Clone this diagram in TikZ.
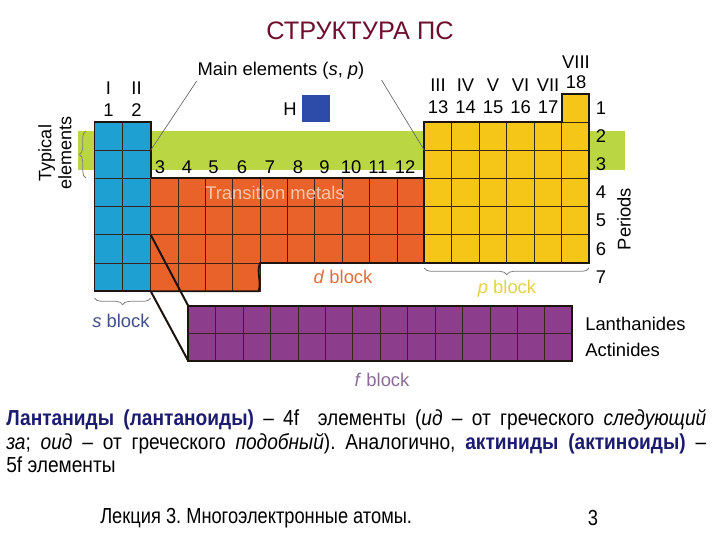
\documentclass[tikz,border=0pt]{standalone}
\usepackage{fontspec}
\setmainfont{Liberation Sans}
\newfontfamily\narrowf[FakeStretch=0.84]{Liberation Sans}
\newfontfamily\paraf[FakeStretch=0.88]{Liberation Sans}
\usetikzlibrary{decorations.pathreplacing}
\definecolor{titlec}{RGB}{110,16,45}
\definecolor{greenband}{RGB}{186,214,66}
\definecolor{sblue}{RGB}{30,160,210}
\definecolor{hblue}{RGB}{45,75,168}
\definecolor{dorange}{RGB}{232,98,42}
\definecolor{pyellow}{RGB}{245,198,24}
\definecolor{fpurple}{RGB}{140,62,140}
\definecolor{peach}{RGB}{246,198,166}
\definecolor{dtext}{RGB}{222,110,60}
\definecolor{ptext}{RGB}{228,210,70}
\definecolor{ftext}{RGB}{140,106,154}
\definecolor{stext}{RGB}{63,79,138}
\definecolor{navy}{RGB}{28,28,110}
\definecolor{cellline}{RGB}{60,35,25}
\definecolor{outl}{RGB}{30,20,15}
\frenchspacing
\begin{document}
\begin{tikzpicture}[x=0.75pt,y=-0.75pt,
  lbl/.style={inner sep=0pt, font=\fontsize{13.8}{16}\selectfont},
  small/.style={inner sep=0pt, font=\fontsize{13.8}{16}\selectfont},
  cell/.style={draw=cellline, line width=0.6pt},
  outline/.style={draw=outl, line width=1.4pt, line join=miter},
  thinlink/.style={draw=gray!80!black, line width=0.5pt},
  thicklink/.style={draw=outl, line width=1.5pt},
  bracec/.style={draw=gray, line width=0.6pt, decorate},
  para/.style={inner sep=0pt, font=\narrowf\fontsize{16.3}{17.8}\selectfont},
  parab/.style={inner sep=0pt, font=\paraf\fontsize{16.3}{17.8}\selectfont}]
\useasboundingbox (0,0) rectangle (720,540);

% title
\node[inner sep=0pt, font=\fontsize{19}{22}\selectfont, text=titlec] (title) at (360,31) {СТРУКТУРА ПС};

% green band
\fill[greenband] (78,131) rectangle (625,170);

% s block
\foreach \i in {0,1} \foreach \j in {0,...,5}
  \filldraw[fill=sblue, cell] ({94.5+28.1*\i},{122+28.2*\j}) rectangle ++(28.1,28.2);
\draw[outline] (94.5,122) rectangle (150.7,291.2);

% d block
\foreach \i in {0,...,9} \foreach \j in {0,1,2}
  \filldraw[fill=dorange, cell] ({150.7+27.36*\i},{178.4+28.2*\j}) rectangle ++(27.36,28.2);
\foreach \i in {0,...,3}
  \filldraw[fill=dorange, cell] ({150.7+27.36*\i},263) rectangle ++(27.36,28.2);
\draw[outline] (150.7,178.4) -- (424.3,178.4);
\draw[outline] (150.7,291.2) -- (258.5,291.2) .. controls (262,282) and (256,272) .. (260.1,263) -- (424.3,263);

% p block
\foreach \i in {0,...,5} \foreach \j in {0,...,4}
  \filldraw[fill=pyellow, cell] ({424.3+27.5*\i},{122+28.2*\j}) rectangle ++(27.5,28.2);
\filldraw[fill=pyellow, cell] (561.8,94) rectangle (589.3,122);
\draw[outline] (424.3,122) -- (561.8,122) -- (561.8,94) -- (589.3,94) -- (589.3,263) -- (424.3,263) -- cycle;

% f block
\foreach \i in {0,...,13} \foreach \j in {0,1}
  \filldraw[fill=fpurple, cell] ({188.3+27.43*\i},{306+27.5*\j}) rectangle ++(27.43,27.5);
\draw[outline] (188.3,306) rectangle (572.3,361);

% f block links
\coordinate (s6) at (150.7,234.8);
\coordinate (s7) at (150.7,291.2);
\coordinate (f1) at (188.3,306);
\coordinate (f2) at (188.3,361);
\draw[thicklink] (s6) -- (f1);
\draw[thicklink] (s7) -- (f2);

% H
\node[lbl] (H) at (290,109) {H};
\fill[hblue] (301.7,95) rectangle (330,121.7);

% group labels
\node[lbl] (gI) at (108.5,88) {I};
\node[lbl] (g1) at (108.5,110) {1};
\node[lbl] (gII) at (136.5,88) {II};
\node[lbl] (g2) at (136.5,110) {2};
\foreach \r/\n [count=\k from 0] in {III/13,IV/14,V/15,VI/16,VII/17} {
  \node[lbl] (gr\n) at ({438+27.5*\k},85) {\r};
  \node[lbl] (ga\n) at ({438+27.5*\k},107) {\n};
}
\node[lbl] (gVIII) at (576,62) {VIII};
\node[lbl] (g18) at (576,82) {18};
\foreach \n/\x in {3/160,4/187,5/213.5,6/242,7/270,8/298,9/324.5,10/351,11/378,12/405}
  \node[lbl] (d\n) at (\x,167) {\n};

% main elements
\node[lbl] (main) at (281,71) {Main elements (\textit{s}, \textit{p})};
\coordinate (sC) at (150.7,150.2);
\coordinate (pC) at (424.3,150.2);
\coordinate (m1) at (196.7,81);
\coordinate (m2) at (381.5,80);
\draw[thinlink] (m1) -- (sC);
\draw[thinlink] (m2) -- (pC);

% periods
\foreach \n/\y in {1/108,2/136,3/164.3,4/192.5,5/220.7,6/249,7/277}
  \node[lbl] (per\n) at (601,\y) {\n};
\node[lbl, rotate=90] (periods) at (624,219) {Periods};

% typical elements
\node[lbl, rotate=90, align=center, font=\fontsize{13.5}{15}\selectfont] (typ) at (55,153) {Typical\\elements};
\draw[bracec, decoration={brace, amplitude=5pt}] (86,178) -- (86,131);

% block labels
\node[lbl, text=peach] (trans) at (275,193) {Transition metals};
\node[lbl, text=dtext] (dbl) at (343,277) {\textit{d} block};
\draw[bracec, decoration={brace, amplitude=5pt}] (589,268) -- (424.3,268);
\node[lbl, text=ptext] (pbl) at (507,289) {\textit{p} block};
\draw[bracec, decoration={brace, amplitude=5pt}] (150.7,298) -- (94.5,298);
\node[lbl, text=stext] (sbl) at (121,321) {\textit{s} block};
\node[small, anchor=west] (lan) at (585,324) {Lanthanides};
\node[small, anchor=west] (act) at (585,350) {Actinides};
\node[lbl, text=ftext] (fbl) at (382,380) {\textit{f} block};

% paragraph
\node[parab, anchor=north west, text width=525pt, align=justify] (txt) at (6,409)
{\textcolor{navy}{\textbf{Лантаниды (лантаноиды)}} – 4f\ \ элементы (\textit{ид} – от греческого \textit{следующий}\linebreak
\textit{за}; \textit{оид} – от греческого \textit{подобный}). Аналогично, \textcolor{navy}{\textbf{актиниды (актиноиды)}} –\linebreak
5f элементы};

% footer
\node[para, anchor=west] (foot) at (100,518) {Лекция 3. Многоэлектронные атомы.};
\node[para] (pg) at (593,518) {3};
\end{tikzpicture}
\end{document}
